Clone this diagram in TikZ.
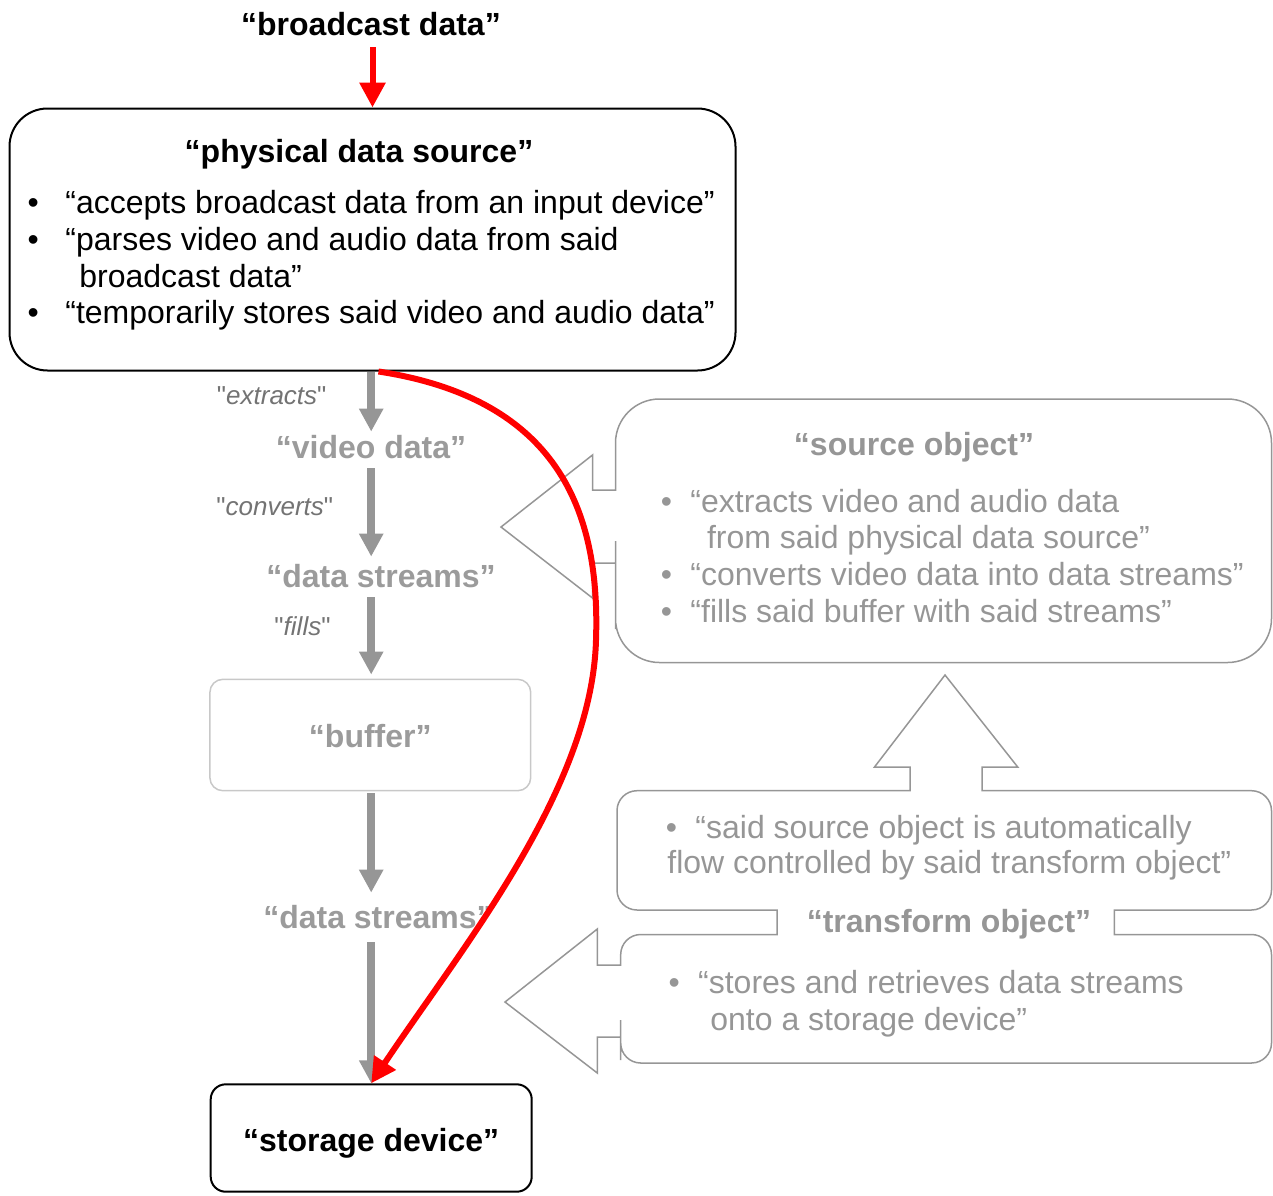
\documentclass[tikz,border=0pt]{standalone}
\usepackage{fontspec}
\setmainfont{Liberation Sans}
\newfontfamily\vsplain{Liberation Sans}[Ligatures=TeXOff]
\usetikzlibrary{arrows.meta,calc}
\definecolor{vsRed}  {RGB}{255,  0,  0}
\definecolor{vsGrey} {RGB}{150,150,150}
\definecolor{vsGreyD}{RGB}{115,115,115}
\definecolor{vsGreyL}{RGB}{200,200,200}
\definecolor{vsGreyT}{RGB}{155,155,155}
\newcommand{\vsfont}{\fontsize{16pt}{19pt}\selectfont}
\newcommand{\vslab}{\vsplain\fontsize{13pt}{15pt}\selectfont}
\newcommand{\vsbul}[1]{\makebox[#1][l]{•}}

\begin{document}
\begin{tikzpicture}[
  x=0.5pt,y=-0.5pt,
  >={Triangle[length=11.5pt,width=11.5pt]},
  txt/.style={inner sep=0pt,text height=13.3pt,text depth=2.7pt,font=\vsfont},
  title/.style={txt,font=\vsfont\bfseries},
  item/.style={txt,anchor=west},
  gtitle/.style={title,text=vsGreyT},
  ritem/.style={item,text=vsGrey},
  rtitle/.style={title,text=vsGrey},
  glabel/.style={inner sep=0pt,text height=11pt,text depth=2pt,font=\vslab,text=vsGreyD},
  pbox/.style={draw=black,line width=1pt,inner sep=0pt,text height=14pt,text depth=2pt},
  outline/.style={draw=vsGrey,line width=0.75pt},
  flowarr/.style={->,draw=vsGrey,line width=4pt},
  redarr/.style={-{Triangle[length=12.5pt,width=12.5pt]},draw=vsRed,line width=3pt},
]
\useasboundingbox (0,0) rectangle (1273,1195);

% left column
\node[title] (bd) at (371,25) {“broadcast data”};
\node[pbox,minimum width=363pt,minimum height=131pt,rounded corners=19pt] (pds) at (372.5,239.5) {};
\node[title] (pdsT) at (359,152) {“physical data source”};
\node[item] (pdsL1) at (27.2,203) {\vsbul{18.9pt}“accepts broadcast data from an input device”};
\node[item] (pdsL2) at (27.2,240) {\vsbul{18.9pt}“parses video and audio data from said};
\node[item] (pdsL3) at (79,277) {broadcast data”};
\node[item] (pdsL4) at (27.2,313) {\vsbul{18.9pt}“temporarily stores said video and audio data”};

\node[gtitle] (vd) at (371,448) {“video data”};
\node[gtitle] (ds1) at (381,577) {“data streams”};
\node[pbox,draw=vsGreyL,line width=0.75pt,minimum width=160.4pt,minimum height=55.7pt,
      rounded corners=6.5pt,font=\vsfont\bfseries,text=vsGreyT] (buf) at (370.3,735) {“buffer”};
\node[gtitle] (ds2) at (378,918) {“data streams”};
\node[pbox,minimum width=160.5pt,minimum height=53.7pt,rounded corners=7.5pt,
      text height=14.5pt,text depth=1.5pt,font=\vsfont\bfseries] (sd) at (371.2,1138) {“storage device”};

\node[glabel] (lbEx) at (271.7,395) {"\textit{extracts}"};
\node[glabel] (lbCo) at (274.8,506.7) {"\textit{converts}"};
\node[glabel] (lbFi) at (302.5,626.7) {"\textit{fills}"};

\draw[flowarr] (pds.south -| sd.north) -- (vd.north -| sd.north);
\draw[flowarr,shorten <=2pt,shorten >=2pt] (vd.south -| sd.north) -- (ds1.north -| sd.north);
\draw[flowarr,shorten <=2pt,shorten >=2pt] (ds1.south -| sd.north) -- (buf.north -| sd.north);
\draw[flowarr,shorten <=1pt,shorten >=4.5pt] (buf.south -| sd.north) -- (ds2.north -| sd.north);
\draw[flowarr,shorten <=4pt] (ds2.south -| sd.north) -- (sd.north);

% source object callout
\draw[outline] (615.5,480) [rounded corners=22pt] -- (615.5,399) -- (1271.5,399)
  -- (1271.5,662.5) -- (615.5,662.5) -- (615.5,585) [sharp corners] -- (615.5,563)
  -- (592.5,563) -- (592.5,598) -- (501,527) -- (592.5,455) -- (592.5,490)
  -- (615.5,490) -- cycle;
\node[rtitle] (soT) at (914,445) {“source object”};
\node[ritem] (soL1) at (660.5,502) {\vsbul{14.8pt}“extracts video and audio data};
\node[ritem] (soL2) at (706.6,538) {from said physical data source”};
\node[ritem] (soL3) at (660.5,575) {\vsbul{14.8pt}“converts video data into data streams”};
\node[ritem] (soL4) at (660.5,612) {\vsbul{14.8pt}“fills said buffer with said streams”};

% transform object callout
\draw[outline] (910,790.7) -- (910,767) -- (874.5,767) -- (945,675) -- (1017.7,767)
  -- (982,767) -- (982,790.7) -- (1010,790.7) [rounded corners=10pt] -- (1271.5,790.7)
  -- (1271.5,910) -- (1200,910) [sharp corners] -- (1114.3,910) -- (1114.3,934.5)
  -- (1140,934.5) [rounded corners=10pt] -- (1271.5,934.5) -- (1271.5,1063)
  -- (620.7,1063) -- (620.7,1040) [sharp corners] -- (620.7,1037) -- (597.3,1037)
  -- (597.3,1073) -- (505,1002) -- (597.3,929) -- (597.3,965) -- (620.7,965)
  -- (620.7,957) [rounded corners=10pt] -- (620.7,934.5) -- (750,934.5) [sharp corners]
  -- (777,934.5) -- (777,910) -- (750,910) [rounded corners=10pt] -- (617,910)
  -- (617,790.7) -- (885,790.7) [sharp corners] -- cycle;
\node[rtitle] (trT) at (949,921.7) {“transform object”};
\node[ritem] (trL1) at (665.5,828) {\vsbul{14.8pt}“said source object is automatically};
\node[ritem] (trL2) at (667,863) {flow controlled by said transform object”};
\node[ritem] (trL3) at (668.2,983) {\vsbul{14.8pt}“stores and retrieves data streams};
\node[ritem] (trL4) at (710,1020) {onto a storage device”};

% red path
\draw[redarr,shorten <=3pt] (bd.south -| pds.north) -- (pds.north);
\coordinate (bend) at (596,640);
\draw[redarr] ([xshift=3pt]pds.south) .. controls (565,400) and (600,520) .. (bend)
  .. controls (592,790) and (460,950) .. (sd.north);
\end{tikzpicture}
\end{document}
